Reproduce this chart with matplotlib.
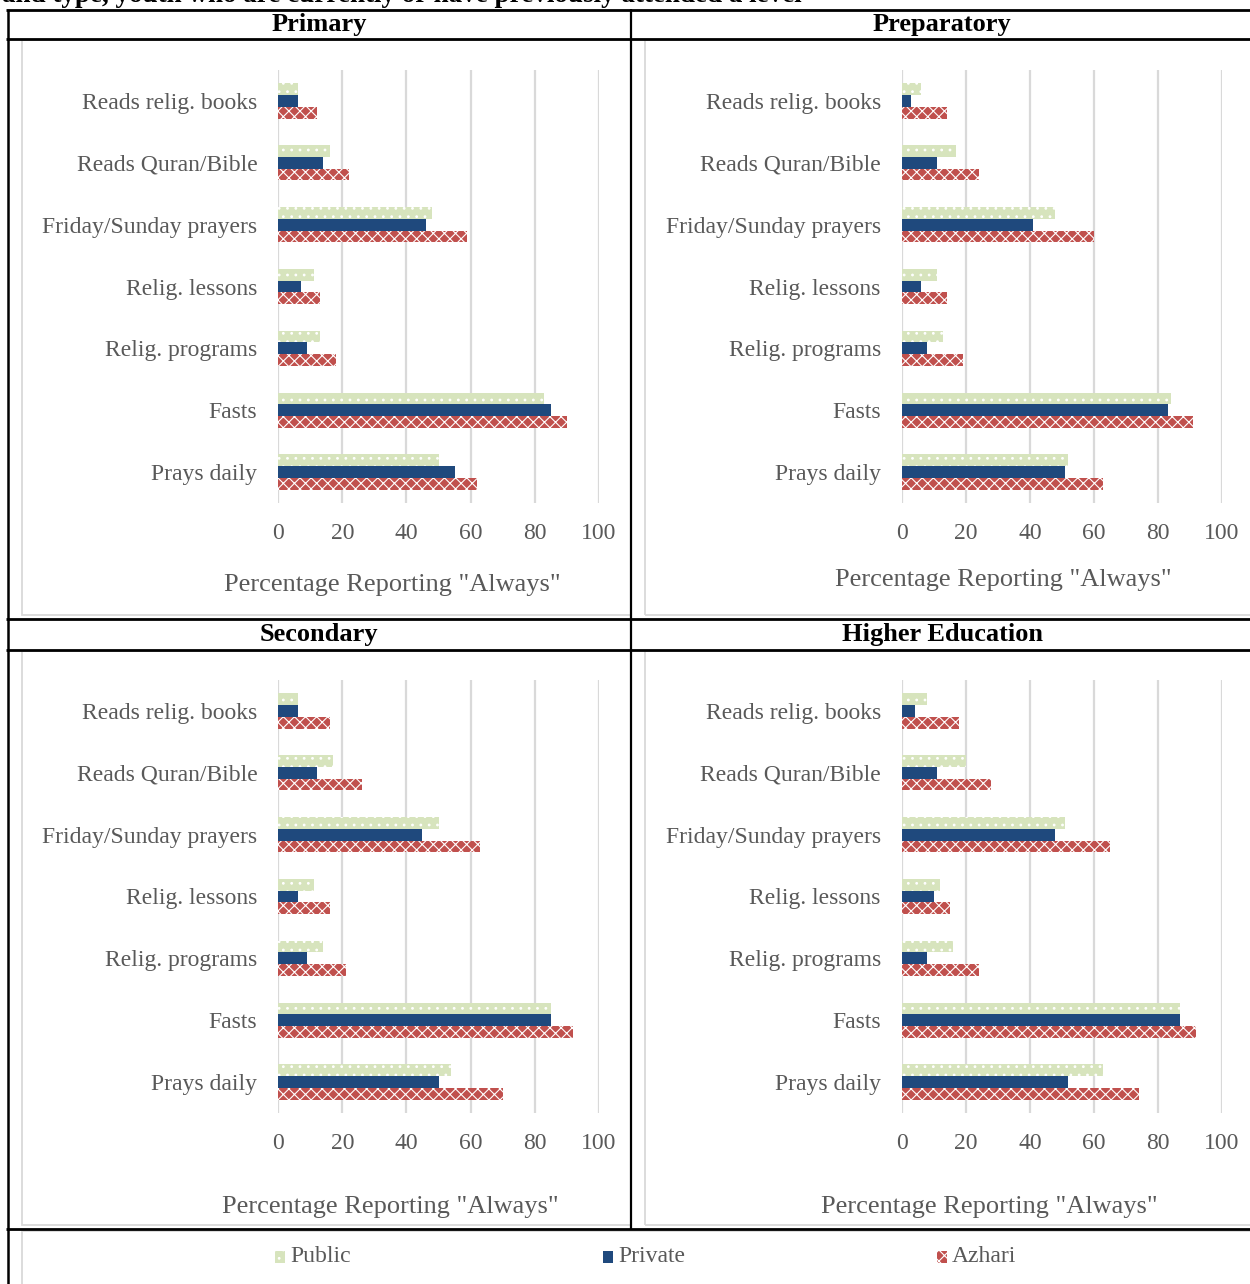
import numpy as np
import matplotlib
matplotlib.use("Agg")
import matplotlib.pyplot as plt
from matplotlib.lines import Line2D
from matplotlib.patches import Rectangle

# ---------- DATA ----------
categories = ["Reads relig. books", "Reads Quran/Bible", "Friday/Sunday prayers",
              "Relig. lessons", "Relig. programs", "Fasts", "Prays daily"]
series_names = ["Public", "Private", "Azhari"]
x_ticks = [0, 20, 40, 60, 80, 100]

primary_public = [6, 16, 48, 11, 13, 83, 50]
primary_private = [6, 14, 46, 7, 9, 85, 55]
primary_azhari = [12, 22, 59, 13, 18, 90, 62]

prep_public = [6, 17, 48, 11, 13, 84, 52]
prep_private = [3, 11, 41, 6, 8, 83, 51]
prep_azhari = [14, 24, 60, 14, 19, 91, 63]

secondary_public = [6, 17, 50, 11, 14, 85, 54]
secondary_private = [6, 12, 45, 6, 9, 85, 50]
secondary_azhari = [16, 26, 63, 16, 21, 92, 70]

higher_public = [8, 20, 51, 12, 16, 87, 63]
higher_private = [4, 11, 48, 10, 8, 87, 52]
higher_azhari = [18, 28, 65, 15, 24, 92, 74]

panel_titles = ["Primary", "Preparatory", "Secondary", "Higher Education"]
x_label = 'Percentage Reporting "Always"'
caption = "and type, youth who are currently or have previously attended a level"
# ---------------------------

W, H = 1250, 1284
SERIF = "Liberation Serif"
TXT = "#595959"
GRID = "#d9d9d9"

plt.rcParams["font.family"] = [SERIF, "DejaVu Serif"]
plt.rcParams["hatch.linewidth"] = 0.8

styles = [
    dict(facecolor="#d7e4bd", edgecolor="white", hatch="..", linewidth=0),
    dict(facecolor="#1f497d", edgecolor="#1f497d", linewidth=0),
    dict(facecolor="#c0504d", edgecolor="white", hatch="xxx", linewidth=0),
]


def fx(x):
    return x / W


def fy(y):
    return 1 - y / H


fig = plt.figure(figsize=(W / 100, H / 100), dpi=100)


def hline(y, x0, x1, lw=2.0, color="black"):
    fig.add_artist(Line2D([fx(x0), fx(x1)], [fy(y), fy(y)], transform=fig.transFigure,
                          color=color, lw=lw, solid_capstyle="butt"))


def vline(x, y0, y1, lw=2.0, color="black"):
    fig.add_artist(Line2D([fx(x), fx(x)], [fy(y0), fy(y1)], transform=fig.transFigure,
                          color=color, lw=lw, solid_capstyle="butt"))


def gray_frame(left, top, right, bottom):
    fig.add_artist(Rectangle((fx(left), fy(bottom)), (right - left) / W, (bottom - top) / H,
                             transform=fig.transFigure, fill=False, edgecolor=GRID, lw=1.3))


# chart-area frames (light gray) behind the table grid
gray_frame(21.5, 40, 631, 615)
gray_frame(645, 40, 1262, 615)
gray_frame(21.5, 651, 631, 1225)
gray_frame(645, 651, 1262, 1225)
gray_frame(21.5, 1231, 1262, 1295)

# table lines
for y in [9.5, 39, 619, 650, 1229]:
    hline(y, 6, W)
vline(7.5, 8.5, H, lw=1.8)
vline(631, 8.5, 1229, lw=1.6)

# caption line, mostly cut off by the top edge as in the source
fig.text(fx(2), fy(2.5), caption, fontsize=19.5, fontweight="bold", ha="left", va="baseline")

# panel titles
title_pos = [(319, 24), (942, 24), (319, 635), (942, 635)]
for (tx, ty), t in zip(title_pos, panel_titles):
    fig.text(fx(tx), fy(ty), t, fontsize=19, fontweight="bold", ha="center", va="center")

panels = [
    ((278.3, 70, 598.7, 503), (392, 585), [primary_public, primary_private, primary_azhari]),
    ((901.7, 70, 1222, 503), (1003, 580), [prep_public, prep_private, prep_azhari]),
    ((278.3, 680, 598.7, 1113), (390, 1207), [secondary_public, secondary_private, secondary_azhari]),
    ((901.7, 680, 1222, 1113), (989, 1207), [higher_public, higher_private, higher_azhari]),
]

y = np.arange(len(categories))
h = 0.19

for (left, top, right, bottom), (lx, ly), vals in panels:
    ax = fig.add_axes([fx(left), fy(bottom), (right - left) / W, (bottom - top) / H])
    for i, (v, st) in enumerate(zip(vals, styles)):
        ax.barh(y + (i - 1) * h, v, height=h, **st)
    ax.set_xlim(0, 100)
    ax.set_ylim(len(categories) - 0.5, -0.5)
    ax.set_xticks(x_ticks)
    ax.set_yticks(y)
    ax.set_yticklabels(categories)
    ax.tick_params(axis="both", length=0, labelsize=17, labelcolor=TXT)
    ax.tick_params(axis="x", pad=14.5)
    ax.tick_params(axis="y", pad=15)
    for s in ax.spines.values():
        s.set_visible(False)
    ax.set_axisbelow(True)
    ax.grid(axis="x", color=GRID, lw=1.6)
    ax.patch.set_alpha(0)
    fig.text(fx(lx), fy(ly), x_label, fontsize=19, color=TXT, ha="center", va="center")

# legend row
legend_x = [275, 603, 937]
for lx, name, st in zip(legend_x, series_names, styles):
    fig.add_artist(Rectangle((fx(lx), fy(1263)), 10 / W, 12 / H, transform=fig.transFigure, **st))
    fig.text(fx(lx + 15), fy(1257), name, fontsize=17, color=TXT, ha="left", va="center")

fig.savefig("out.png", dpi=100)
